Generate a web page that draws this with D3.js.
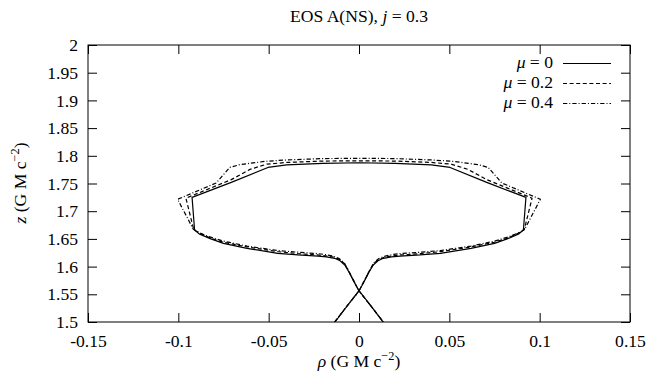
<!DOCTYPE html>
<html>
<head>
<meta charset="utf-8">
<script src="https://cdn.jsdelivr.net/npm/d3@7/dist/d3.min.js"></script>
<style>
  html, body { margin: 0; padding: 0; background: #fff; }
  svg { display: block; }
</style>
</head>
<body>
<svg id="chart" width="648" height="383"></svg>
<script>
// Meridional cross-section of the equipotential surface, EOS A(NS), j = 0.3
const seriesMu = ["0", "0.2", "0.4"];

// Each series: [rho, z] in units of G M c^-2, traced from the lower-left tail
// through the crossing, round the right lobe, across the top and back down.
const curveMu0 = [
  [-0.0133, 1.5], [-0.0068, 1.528], [0, 1.5565], [0.0015, 1.565], [0.0033, 1.576], [0.0055, 1.590],
  [0.0079, 1.603], [0.0105, 1.6105], [0.0135, 1.615], [0.018, 1.6175], [0.0227, 1.619], [0.0338, 1.621],
  [0.045, 1.624], [0.062, 1.633], [0.075, 1.642], [0.082, 1.650], [0.0885, 1.659], [0.091, 1.666],
  [0.0924, 1.725], [0.0707, 1.752], [0.0504, 1.779], [0.040, 1.7835], [0.020, 1.7865], [0, 1.7875],
  [-0.020, 1.7865], [-0.040, 1.7835], [-0.0504, 1.779], [-0.0707, 1.752], [-0.0924, 1.725],
  [-0.091, 1.666], [-0.0885, 1.659], [-0.082, 1.650], [-0.075, 1.642], [-0.062, 1.633], [-0.045, 1.624],
  [-0.0338, 1.621], [-0.0227, 1.619], [-0.018, 1.6175], [-0.0135, 1.615], [-0.0105, 1.6105],
  [-0.0079, 1.603], [-0.0055, 1.590], [-0.0033, 1.576], [-0.0015, 1.565], [0, 1.5565], [0.0068, 1.528], [0.0133, 1.5]
];
const curveMu02 = [
  [-0.0135, 1.5], [-0.0068, 1.528], [0, 1.556], [0.0016, 1.566], [0.0035, 1.578], [0.0057, 1.592],
  [0.008, 1.605], [0.0107, 1.6125], [0.014, 1.617], [0.0185, 1.6195], [0.023, 1.621], [0.034, 1.6235],
  [0.045, 1.627], [0.062, 1.6355], [0.075, 1.644], [0.082, 1.651], [0.088, 1.660], [0.0915, 1.667],
  [0.0958, 1.7235], [0.0707, 1.757], [0.0603, 1.7755], [0.051, 1.785], [0.040, 1.788], [0.020, 1.7905], [0, 1.791],
  [-0.020, 1.7905], [-0.040, 1.788], [-0.051, 1.785], [-0.0603, 1.7755], [-0.0707, 1.757], [-0.0958, 1.7235],
  [-0.0915, 1.667], [-0.088, 1.660], [-0.082, 1.651], [-0.075, 1.644], [-0.062, 1.6355], [-0.045, 1.627],
  [-0.034, 1.6235], [-0.023, 1.621], [-0.0185, 1.6195], [-0.014, 1.617], [-0.0107, 1.6125],
  [-0.008, 1.605], [-0.0057, 1.592], [-0.0035, 1.578], [-0.0016, 1.566], [0, 1.556], [0.0068, 1.528], [0.0135, 1.5]
];
const curveMu04 = [
  [-0.0135, 1.5], [-0.0068, 1.528], [0, 1.556], [0.0017, 1.567], [0.0037, 1.579], [0.006, 1.594],
  [0.0082, 1.607], [0.011, 1.6145], [0.0145, 1.619], [0.019, 1.622], [0.023, 1.6235], [0.034, 1.626],
  [0.045, 1.629], [0.062, 1.637], [0.075, 1.646], [0.083, 1.654], [0.089, 1.662], [0.0917, 1.6673],
  [0.1004, 1.7215], [0.079, 1.751], [0.0715, 1.779], [0.066, 1.784], [0.052, 1.790], [0.040, 1.7925],
  [0.020, 1.795], [0, 1.7955],
  [-0.020, 1.795], [-0.040, 1.7925], [-0.052, 1.790], [-0.066, 1.784], [-0.0715, 1.779], [-0.079, 1.751],
  [-0.1004, 1.7215], [-0.0917, 1.6673], [-0.089, 1.662], [-0.083, 1.654], [-0.075, 1.646], [-0.062, 1.637],
  [-0.045, 1.629], [-0.034, 1.626], [-0.023, 1.6235], [-0.019, 1.622], [-0.0145, 1.619], [-0.011, 1.6145],
  [-0.0082, 1.607], [-0.006, 1.594], [-0.0037, 1.579], [-0.0017, 1.567], [0, 1.556], [0.0068, 1.528], [0.0135, 1.5]
];

const xTickValues = [-0.15, -0.1, -0.05, 0, 0.05, 0.1, 0.15];
const xTickLabels = ["-0.15", "-0.1", "-0.05", "0", "0.05", "0.1", "0.15"];
const yTickValues = [1.5, 1.55, 1.6, 1.65, 1.7, 1.75, 1.8, 1.85, 1.9, 1.95, 2];
const yTickLabels = ["1.5", "1.55", "1.6", "1.65", "1.7", "1.75", "1.8", "1.85", "1.9", "1.95", "2"];

const series = [
  { pts: curveMu0, dash: null },
  { pts: curveMu02, dash: "4,2.6" },
  { pts: curveMu04, dash: "4.3,2,1,2" }
];

const margin = { left: 88, right: 18, top: 45, bottom: 61 };
const W = 648, H = 383;
const svg = d3.select("#chart");

const x = d3.scaleLinear().domain([-0.15, 0.15]).range([margin.left, W - margin.right]);
const y = d3.scaleLinear().domain([1.5, 2]).range([H - margin.bottom, margin.top]);

const FS = 17.6;
const FONT = "'Liberation Serif', serif";
const tick = 9;

// Curves
svg.append("clipPath").attr("id", "plotClip")
  .append("rect")
  .attr("x", x(-0.15)).attr("y", y(2))
  .attr("width", x(0.15) - x(-0.15)).attr("height", y(1.5) - y(2));

const line = d3.line().x(d => x(d[0])).y(d => y(d[1]));
const curves = svg.append("g").attr("clip-path", "url(#plotClip)");
series.forEach(s => {
  curves.append("path")
    .attr("d", line(s.pts))
    .attr("fill", "none")
    .attr("stroke", "#000")
    .attr("stroke-width", 1.2)
    .attr("stroke-linejoin", "round")
    .attr("stroke-dasharray", s.dash);
});

// Axes (ticks mirrored on all four sides, pointing inward)
function styleAxis(g) {
  g.select(".domain").remove();
  g.selectAll(".tick line").attr("stroke", "#000").attr("stroke-width", 1);
  g.selectAll(".tick text").attr("font-size", FS).style("font-family", FONT).attr("fill", "#000");
}
svg.append("g")
  .attr("transform", `translate(0,${y(1.5)})`)
  .call(d3.axisBottom(x).tickValues(xTickValues).tickSize(-tick).tickPadding(13)
    .tickFormat((d, i) => xTickLabels[i]))
  .call(styleAxis);
svg.append("g")
  .attr("transform", `translate(0,${y(2)})`)
  .call(d3.axisTop(x).tickValues(xTickValues).tickSize(-tick).tickFormat(""))
  .call(styleAxis);
svg.append("g")
  .attr("transform", `translate(${x(-0.15)},0)`)
  .call(d3.axisLeft(y).tickValues(yTickValues).tickSize(-tick).tickPadding(10)
    .tickFormat((d, i) => yTickLabels[i]))
  .call(styleAxis);
svg.append("g")
  .attr("transform", `translate(${x(0.15)},0)`)
  .call(d3.axisRight(y).tickValues(yTickValues).tickSize(-tick).tickFormat(""))
  .call(styleAxis);

// Frame
svg.append("rect")
  .attr("x", x(-0.15)).attr("y", y(2))
  .attr("width", x(0.15) - x(-0.15)).attr("height", y(1.5) - y(2))
  .attr("fill", "none").attr("stroke", "#000").attr("stroke-width", 1);

// Title
const title = svg.append("text")
  .attr("x", 359).attr("y", 22).attr("text-anchor", "middle").attr("font-size", FS)
  .style("font-family", FONT);
title.append("tspan").text("EOS A(NS), ");
title.append("tspan").attr("font-style", "italic").text("j");
title.append("tspan").text(" = 0.3");

// Axis titles
function unitLabel(t, sym) {
  t.style("font-family", FONT);
  t.append("tspan").attr("font-style", "italic").text(sym);
  t.append("tspan").text(" (G M c");
  t.append("tspan").attr("font-size", FS * 0.7).attr("dy", -7).text("−2");
  t.append("tspan").attr("dy", 7).text(")");
}
const xl = svg.append("text")
  .attr("x", 359).attr("y", 367).attr("text-anchor", "middle").attr("font-size", FS);
unitLabel(xl, "ρ");
const yl = svg.append("text")
  .attr("transform", "translate(26,183) rotate(-90)")
  .attr("text-anchor", "middle").attr("font-size", FS);
unitLabel(yl, "z");

// Legend
const legY = [63.5, 83.5, 103.5];
const leg = svg.append("g");
series.forEach((s, i) => {
  const t = leg.append("text")
    .attr("x", 553).attr("y", legY[i] + 4.6)
    .attr("text-anchor", "end").attr("font-size", FS)
    .style("font-family", FONT);
  t.append("tspan").attr("font-style", "italic").text("μ");
  t.append("tspan").text(" = " + seriesMu[i]);
  leg.append("line")
    .attr("x1", 563).attr("x2", 611)
    .attr("y1", legY[i]).attr("y2", legY[i])
    .attr("stroke", "#000").attr("stroke-width", 1.2)
    .attr("stroke-dasharray", s.dash);
});
</script>
</body>
</html>
